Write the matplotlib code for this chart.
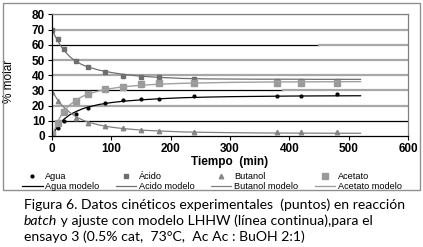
import matplotlib.pyplot as plt
import matplotlib.patches as patches
import numpy as np

# experimental points
t_exp = [0, 10, 20, 40, 60, 90, 120, 150, 180, 240, 380, 420, 480]
agua = [1, 5, 10, 14.5, 18.5, 21.5, 23.5, 24.2, 24.2, 26.6, 26.6, 26.6, 27.6]
acido = [69.8, 63.7, 57, 49.4, 45.7, 42.3, 39.8, 39.1, 39.1, 37.4, 36.5, 36.5, 36.5]
butanol = [29, 23, 17, 12, 8.4, 6.4, 5, 4, 3.1, 2.8, 2.7, 2.7, 2.6]
acetato = [1.6, 8.6, 16, 22.8, 27.5, 31.2, 32.5, 34, 34.8, 35, 35.2, 35.2, 35.2]

# model curves
t_mod = [0, 5, 10, 15, 20, 30, 40, 50, 60, 80, 100, 120, 150, 180, 220, 260, 300, 350, 400, 450, 520]
agua_mod = [0, 3.5, 6.5, 9, 11, 14, 16, 17.7, 19, 20.8, 22, 22.9, 23.8, 24.5, 25.2, 25.6, 25.9, 26.1, 26.3, 26.4, 26.5]
acido_mod = [70, 66, 62.5, 59.2, 56.5, 52.2, 49.2, 47.1, 45.5, 43.3, 41.8, 40.6, 39.4, 38.6, 37.9, 37.6, 37.5, 37.4, 37.4, 37.3, 37.3]
butanol_mod = [29.5, 26.5, 23.5, 21, 19, 15.5, 12.8, 10.8, 9.2, 7.2, 5.8, 4.9, 3.9, 3.3, 2.7, 2.4, 2.2, 2.0, 1.9, 1.85, 1.8]
acetato_mod = [0, 5, 9.5, 13.5, 16.5, 20.5, 23.5, 25.8, 27.5, 29.8, 31.3, 32.4, 33.4, 34.1, 34.7, 35.0, 35.3, 35.5, 35.6, 35.7, 35.8]

xticks = [0, 100, 200, 300, 400, 500, 600]
yticks = [0, 10, 20, 30, 40, 50, 60, 70, 80]

plt.rcParams['font.family'] = ['Liberation Sans', 'DejaVu Sans']

W, H = 423, 247
fig = plt.figure(figsize=(W / 100, H / 100), dpi=100)
ax = fig.add_axes([52 / W, 1 - 136 / H, 356 / W, 121.5 / H])

# outer chart box
fig.patches.append(patches.Rectangle((3 / W, 1 - 190 / H), 417 / W, 187 / H,
                                     transform=fig.transFigure, fill=False,
                                     edgecolor='#909090', linewidth=1.0))

# gridlines (mix of gray and black as in the scan)
for y in [20, 40, 50, 70, 80]:
    ax.axhline(y, color='#a8a8a8', linewidth=1.6, zorder=0)
ax.axhline(10, color='black', linewidth=0.9, zorder=0)
ax.axhline(30, color='black', linewidth=0.9, zorder=0, xmax=390 / 600)
ax.axhline(30, color='#a8a8a8', linewidth=1.6, zorder=0, xmin=390 / 600)
ax.axhline(60, color='black', linewidth=0.9, zorder=0, xmax=450 / 600)
ax.axhline(60, color='#a8a8a8', linewidth=1.6, zorder=0, xmin=450 / 600)

h1, = ax.plot(t_exp, agua, 'o', color='black', markersize=2.0, linestyle='none', label='Agua')
h2, = ax.plot(t_mod, agua_mod, color='black', linewidth=0.9, label='Agua modelo')
h3, = ax.plot(t_exp, acido, 's', color='#6e6e6e', markersize=3.3, linestyle='none', label='Ácido')
h4, = ax.plot(t_mod, acido_mod, color='#707070', linewidth=0.9, label='Acido modelo')
h5, = ax.plot(t_exp, butanol, '^', color='#888888', markersize=3.2, linestyle='none', label='Butanol')
h6, = ax.plot(t_mod, butanol_mod, color='#808080', linewidth=0.9, label='Butanol modelo')
h7, = ax.plot(t_exp, acetato, 's', color='#9a9a9a', markersize=4.0, linestyle='none', label='Acetato')
h8, = ax.plot(t_mod, acetato_mod, color='#a0a0a0', linewidth=1.0, label='Acetato modelo')

ax.set_xlim(0, 600)
ax.set_ylim(0, 80)
ax.set_xticks(xticks)
ax.set_yticks(yticks)
ax.tick_params(axis='both', labelsize=8.5, length=3, width=0.8, pad=2)
for lab in ax.get_xticklabels() + ax.get_yticklabels():
    lab.set_fontweight('bold')
ax.spines['left'].set_color('black')
ax.spines['bottom'].set_color('black')
ax.spines['top'].set_color('#808080')
ax.spines['right'].set_color('#808080')
for s in ax.spines.values():
    s.set_linewidth(0.9)

ax.set_xlabel('Tiempo  (min)', fontsize=8.5, fontweight='bold', va='center')
ax.xaxis.set_label_coords(0.5, -(162 - 136) / 121.5)
ax.set_ylabel('% molar', fontsize=8.5)
ax.yaxis.set_label_coords(-(52 - 15) / 356, 0.45)

leg = fig.legend(handles=[h1, h2, h3, h4, h5, h6, h7, h8], ncol=4,
                 loc='center', bbox_to_anchor=(212 / W, 1 - 181.5 / H),
                 fontsize=6.6, frameon=False, handlelength=2.2, handletextpad=0.3,
                 columnspacing=1.8, labelspacing=0.15, borderpad=0)

# caption
cap_font = dict(fontsize=10.1, family=['Lato', 'DejaVu Sans'], va='center', ha='left')
fig.text(24 / W, 1 - 205 / H, 'Figura 6. Datos cinéticos experimentales  (puntos) en reacción', **cap_font)
t_it = fig.text(24 / W, 1 - 221 / H, 'batch', style='italic', **cap_font)
fig.canvas.draw()
bb = t_it.get_window_extent(fig.canvas.get_renderer())
fig.text(bb.x1 / W, 1 - 221 / H, ' y ajuste con modelo LHHW (línea continua),para el', **cap_font)
fig.text(24 / W, 1 - 237 / H, 'ensayo 3 (0.5% cat,  73°C,  Ac Ac : BuOH 2:1)', **cap_font)

fig.savefig('out.png', dpi=100)
